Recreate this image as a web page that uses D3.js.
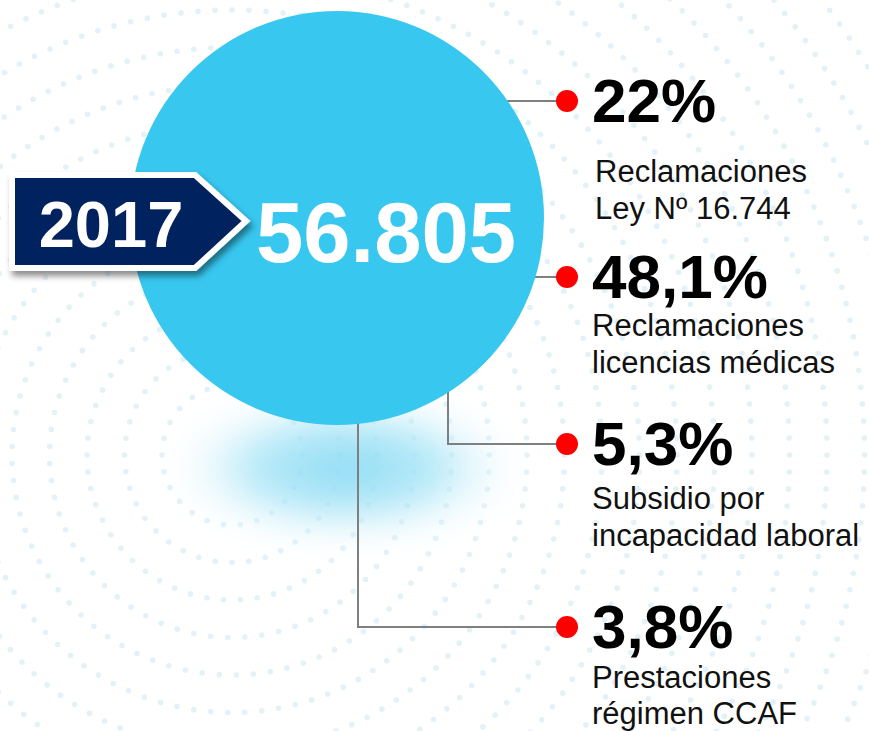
<!DOCTYPE html>
<html lang="es">
  <head>
    <meta charset="UTF-8">
    <script src="https://cdn.jsdelivr.net/npm/d3@7"></script>
    <style>
      html,body{
        width:100%;
        height:100%;
        margin: 0px;
        background:#fff;
      }
      svg{display:block;}
    </style>
  </head>
  <body>
    <svg id="chart" width="869" height="731"></svg>
  </body>
</html>
<script>
// datos
var year = "2017";
var total = "56.805";
var categories = ["ley16744", "licencias", "sil", "ccaf"];
var shares = ["22%", "48,1%", "5,3%", "3,8%"];
var labels = [
  ["Reclamaciones", "Ley Nº 16.744"],
  ["Reclamaciones", "licencias médicas"],
  ["Subsidio por", "incapacidad laboral"],
  ["Prestaciones", "régimen CCAF"]
];

var width = 869, height = 731;
var svg = d3.select("#chart");
var font = "'Liberation Sans', Arial, Helvetica, sans-serif";

// posicion de cada fila (punto rojo) y codo del conector
var rowY = d3.scaleOrdinal().domain(categories).range([101, 277, 444, 627]);
var elbowX = d3.scaleOrdinal().domain(categories).range([null, null, 448, 358]);
var labelGap = d3.scaleOrdinal().domain(categories).range([60, 38, 44, 40]);
var lineGap = d3.scaleOrdinal().domain(categories).range([37, 37, 37, 36]);

var cx = 337, cy = 218, r = 207;   // circulo principal
var dotX = 567, textX = 592;

var defs = svg.append("defs");

// fondo: anillos punteados
var bg = svg.append("g");
var rc = [232, 455];
d3.range(70, 860, 37.5).forEach(function(rad) {
  var n = Math.round(2 * Math.PI * rad / 17);
  d3.range(n).forEach(function(i) {
    var a = i / n * 2 * Math.PI;
    var x = rc[0] + rad * Math.cos(a), y = rc[1] + rad * Math.sin(a);
    if (x < -5 || x > width + 5 || y < -5 || y > height + 5) return;
    bg.append("circle").attr("cx", x).attr("cy", y).attr("r", 2.8).attr("fill", "#e3f2f8");
  });
});

// brillo bajo el circulo
var glow = defs.append("radialGradient").attr("id", "glow");
glow.append("stop").attr("offset", "0%").attr("stop-color", "#86d9f3").attr("stop-opacity", 0.95);
glow.append("stop").attr("offset", "50%").attr("stop-color", "#9fe2f6").attr("stop-opacity", 0.75);
glow.append("stop").attr("offset", "100%").attr("stop-color", "#ffffff").attr("stop-opacity", 0);
defs.append("filter").attr("id", "blur").attr("x", "-50%").attr("y", "-50%").attr("width", "200%").attr("height", "200%")
  .append("feGaussianBlur").attr("stdDeviation", 16);
svg.append("ellipse").attr("cx", 345).attr("cy", 468).attr("rx", 185).attr("ry", 80)
  .attr("fill", "url(#glow)").attr("filter", "url(#blur)");

// conectores
var lines = svg.append("g").attr("fill", "none").attr("stroke", "#7f7f7f").attr("stroke-width", 2);
categories.forEach(function(c) {
  var y = rowY(c), ex = elbowX(c), d;
  if (ex == null) {
    var x0 = cx + Math.sqrt(r * r - (y - cy) * (y - cy)) - 4;
    d = "M" + x0 + "," + y + "H" + dotX;
  } else {
    var y0 = cy + Math.sqrt(r * r - (ex - cx) * (ex - cx)) - 4;
    d = "M" + ex + "," + y0 + "V" + y + "H" + dotX;
  }
  lines.append("path").attr("d", d);
});

// circulo principal
svg.append("circle").attr("cx", cx).attr("cy", cy).attr("r", r).attr("fill", "#37c7ef");

// etiqueta del año
var shadow = defs.append("filter").attr("id", "shadow").attr("x", "-20%").attr("y", "-20%").attr("width", "140%").attr("height", "150%");
shadow.append("feDropShadow").attr("dx", 3).attr("dy", 5).attr("stdDeviation", 3)
  .attr("flood-color", "#000").attr("flood-opacity", 0.45);
var badge = [[12, 175], [195, 175], [246, 221], [195, 268], [12, 268]];
svg.append("path").attr("d", "M" + badge.join("L") + "Z")
  .attr("fill", "#03205e").attr("stroke", "#fff").attr("stroke-width", 6)
  .attr("stroke-linejoin", "miter").attr("filter", "url(#shadow)");
svg.append("text").attr("x", 111).attr("y", 247).attr("text-anchor", "middle")
  .attr("font-family", font).attr("font-weight", "bold").attr("font-size", 65)
  .attr("fill", "#fff").text(year);

svg.append("text").attr("x", 386).attr("y", 262).attr("text-anchor", "middle")
  .attr("font-family", font).attr("font-weight", "bold").attr("font-size", 85)
  .attr("fill", "#fff").text(total);

// filas
var rows = svg.selectAll("g.row").data(categories).enter().append("g").attr("class", "row");
rows.append("circle").attr("cx", dotX).attr("cy", function(c) { return rowY(c); })
  .attr("r", 11).attr("fill", "#ff0000");
rows.append("text").attr("x", textX).attr("y", function(c) { return rowY(c) + 21; })
  .attr("font-family", font).attr("font-weight", "bold").attr("font-size", 62)
  .attr("fill", "#000").text(function(c, i) { return shares[i]; });
rows.each(function(c, i) {
  var g = d3.select(this);
  labels[i].forEach(function(t, j) {
    g.append("text").attr("x", textX + (i == 0 ? 3 : 0))
      .attr("y", rowY(c) + 21 + labelGap(c) + j * lineGap(c))
      .attr("font-family", font).attr("font-size", 31).attr("fill", "#111").text(t);
  });
});
</script>
